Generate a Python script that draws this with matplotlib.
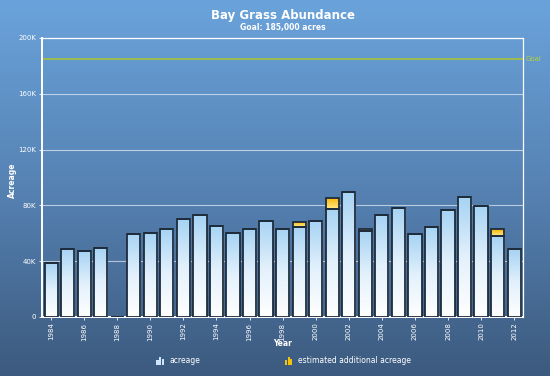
import matplotlib
matplotlib.use('Agg')
import matplotlib.pyplot as plt
import numpy as np
from matplotlib.colors import LinearSegmentedColormap
from matplotlib.legend_handler import HandlerBase
from matplotlib.patches import Rectangle, Patch

# Data (acres)
years = list(range(1984, 2013))
acreage = [38700, 48500, 47300, 49500, 0, 59500, 60000, 63000, 70000, 73000,
           65500, 60000, 63000, 69000, 63000, 64700, 69000, 77400, 89400, 61600,
           73000, 78000, 59300, 64700, 76700, 85800, 79300, 58000, 48500]
estimated = [0, 0, 0, 0, 0, 0, 0, 0, 0, 0,
             0, 0, 0, 0, 0, 3600, 0, 8100, 0, 1700,
             0, 0, 0, 0, 0, 0, 0, 5000, 0]
goal = 185000
y_ticks = [0, 40000, 80000, 120000, 160000, 200000]
y_labels = ['0', '40K', '80K', '120K', '160K', '200K']

fig = plt.figure(figsize=(5.5, 3.76), dpi=100)

# Background gradient
bg = fig.add_axes([0, 0, 1, 1], zorder=-10)
bg_cmap = LinearSegmentedColormap.from_list('bg', ['#3c5a7e', '#5682b3', '#6aa3db'])
bg.imshow(np.linspace(0, 1, 256).reshape(-1, 1), cmap=bg_cmap, aspect='auto',
          origin='lower', extent=[0, 1, 0, 1])
bg.axis('off')

ax = fig.add_axes([0.0764, 0.157, 0.875, 0.742])
ax.set_facecolor('none')

x = np.arange(len(years))
grad = np.linspace(0, 1, 256).reshape(-1, 1)
blue_cmap = LinearSegmentedColormap.from_list('blue', ['#ffffff', '#e3f1fc', '#a6d3f4'])
gold_cmap = LinearSegmentedColormap.from_list('gold', ['#ffeb8a', '#f5b400'])

bars = ax.bar(x, acreage, width=0.8, facecolor='none', edgecolor='#1e2c3c',
              linewidth=1.3, zorder=4)
extra = ax.bar(x, estimated, bottom=acreage, width=0.8, facecolor='none',
               edgecolor='#1e2c3c', linewidth=1.3, zorder=4)

for group, cmap in ((bars, blue_cmap), (extra, gold_cmap)):
    for b in group:
        if b.get_height() <= 0:
            continue
        x0, y0 = b.get_x(), b.get_y()
        im = ax.imshow(grad, cmap=cmap, origin='lower', aspect='auto', zorder=3,
                       extent=[x0, x0 + b.get_width(), y0, y0 + b.get_height()])
        im.set_clip_path(b)

# Goal line
ax.axhline(goal, color='#a4c43a', linewidth=1.2, zorder=2)
ax.text(1.004, goal, 'Goal', transform=ax.get_yaxis_transform(), color='#b8d43a',
        fontsize=5, va='center', ha='left')

ax.set_xlim(-0.55, len(years) - 0.45)
ax.set_ylim(0, 200000)
ax.set_yticks(y_ticks)
ax.set_yticklabels(y_labels)
ax.set_xticks(x[::2])
ax.set_xticklabels([str(y) for y in years[::2]], rotation=90)
ax.tick_params(colors='white', labelsize=5, length=2, width=0.6, pad=2)
ax.grid(axis='y', color='white', alpha=0.6, linewidth=0.8, zorder=1)
for s in ax.spines.values():
    s.set_color('white')
ax.spines['left'].set_linewidth(1.4)
ax.spines['bottom'].set_linewidth(1.4)
ax.spines['top'].set_linewidth(0.9)
ax.spines['right'].set_linewidth(0.9)

fig.text(0.515, 0.958, 'Bay Grass Abundance', color='white', fontsize=8.5,
         fontweight='bold', ha='center', va='center')
fig.text(0.515, 0.926, 'Goal: 185,000 acres', color='white', fontsize=5.5,
         fontweight='bold', ha='center', va='center')
fig.text(0.022, 0.52, 'Acreage', color='white', fontsize=5.5, fontweight='bold',
         rotation=90, ha='center', va='center')
fig.text(0.513, 0.086, 'Year', color='white', fontsize=5.5, fontweight='bold',
         ha='center', va='center')


class BarIcon(HandlerBase):
    def create_artists(self, legend, orig_handle, xdescent, ydescent, width,
                       height, fontsize, trans):
        col = orig_handle.get_facecolor()
        arts = []
        w = width / 4.5
        for i, hh in enumerate([0.85, 1.5, 1.05]):
            r = Rectangle((-xdescent + width * 0.1 + i * w * 1.25, -ydescent - height * 0.2),
                          w, height * hh, facecolor=col, edgecolor='none',
                          transform=trans)
            arts.append(r)
        return arts


h1 = Patch(facecolor='#cfe6fa', label='acreage')
h2 = Patch(facecolor='#f4c20d', label='estimated additional acreage')
leg = fig.legend(handles=[h1, h2], loc='center', bbox_to_anchor=(0.515, 0.04),
                 ncol=2, frameon=False, fontsize=5.5, labelcolor='white',
                 handlelength=1.2, handletextpad=0.6, columnspacing=11,
                 handler_map={Patch: BarIcon()})

fig.savefig('out.png', dpi=100)
